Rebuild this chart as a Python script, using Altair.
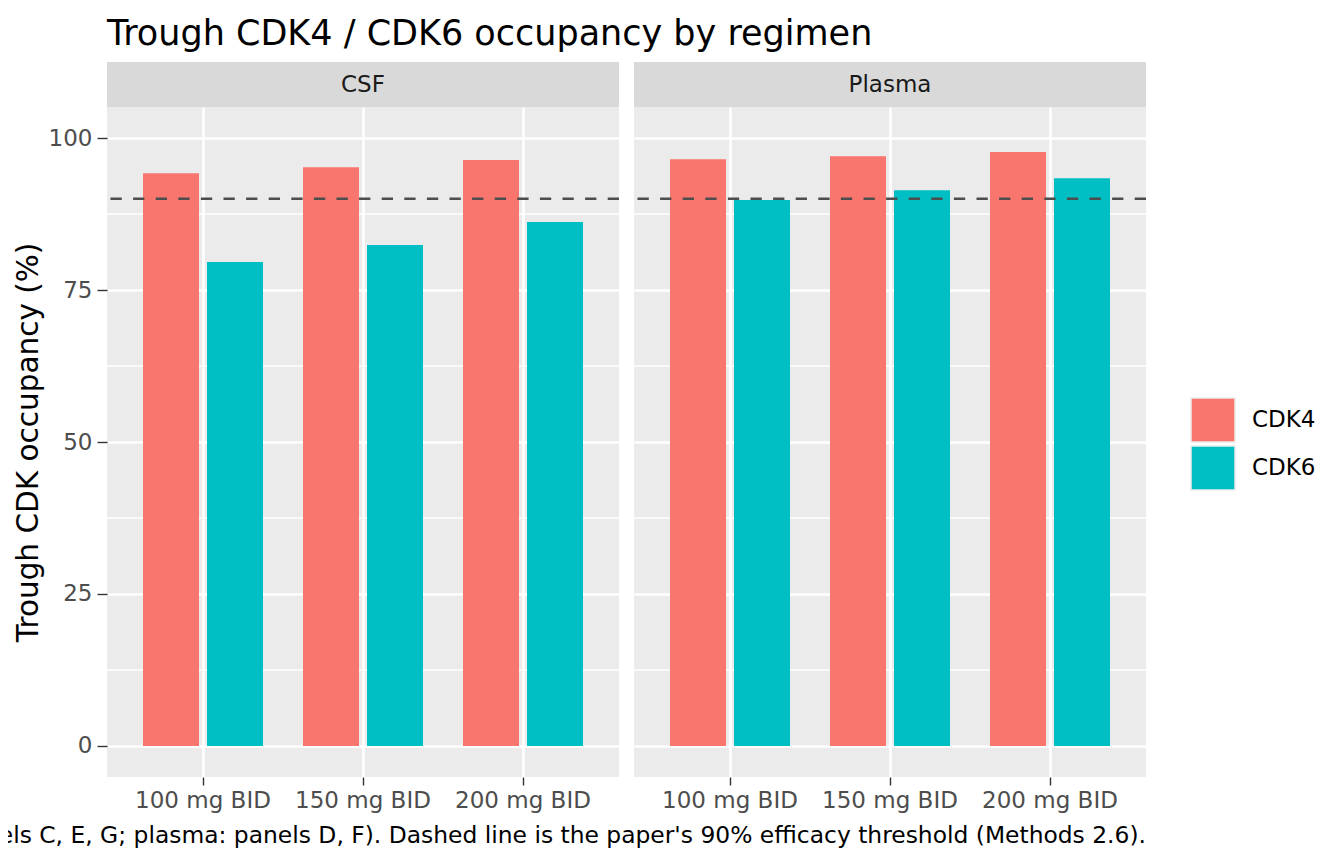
import altair as alt
import pandas as pd

panels = ["CSF", "Plasma"]
doses = ["100 mg BID", "150 mg BID", "200 mg BID"]
proteins = ["CDK4", "CDK6"]
csf_cdk4 = [94.2, 95.2, 96.4]
csf_cdk6 = [79.6, 82.4, 86.2]
plasma_cdk4 = [96.5, 97.0, 97.7]
plasma_cdk6 = [89.8, 91.4, 93.4]
threshold = [90]
y_ticks = [0, 25, 50, 75, 100]
y_minor = [12.5, 37.5, 62.5, 87.5]
colors = ["#F8766D", "#00BFC4"]
title_text = "Trough CDK4 / CDK6 occupancy by regimen"
y_title = "Trough CDK occupancy (%)"
caption = ("els C, E, G; plasma: panels D, F). Dashed line is the paper's "
           "90% efficacy threshold (Methods 2.6).")

series = {
    ("CSF", "CDK4"): csf_cdk4,
    ("CSF", "CDK6"): csf_cdk6,
    ("Plasma", "CDK4"): plasma_cdk4,
    ("Plasma", "CDK6"): plasma_cdk6,
}
rows = []
for (p, pr), vals in series.items():
    for d, v in zip(doses, vals):
        rows.append({"panel": p, "dose": d, "protein": pr, "value": v})
df = pd.DataFrame(rows)

W, H = 512, 670
FONT = "DejaVu Sans"
LABEL = 23


def make_panel(name, first, last):
    yscale = alt.Scale(domain=[-5.1, 105.1], nice=False, zero=False)
    if first:
        yaxis = alt.Axis(values=y_ticks, title=y_title, titleFontSize=29.5,
                         titleColor="black", titleFontWeight="normal",
                         titlePadding=5, labelFontSize=LABEL, labelColor="#4D4D4D",
                         labelPadding=5, tickSize=10, tickColor="#333333",
                         tickWidth=1.4, domain=False, grid=True,
                         gridColor="white", gridWidth=2.6)
    else:
        yaxis = alt.Axis(values=y_ticks, title=None, labels=False, ticks=False,
                         domain=False, grid=True, gridColor="white", gridWidth=2.6)
    xaxis = alt.Axis(title=None, labelAngle=0, labelFontSize=LABEL,
                     labelColor="#4D4D4D", labelPadding=4, tickSize=8,
                     tickColor="#333333", tickWidth=1.4, domain=False,
                     grid=True, gridColor="white", gridWidth=2.6,
                     bandPosition=0.5)

    minor = alt.Chart(pd.DataFrame({"m": y_minor})).mark_rule(
        color="white", strokeWidth=1.3
    ).encode(y=alt.Y("m:Q", scale=yscale, axis=yaxis))

    legend = None
    if first:
        legend = alt.Legend(title=None, orient="none", legendX=1083, legendY=290,
                            symbolType="square", symbolSize=1936,
                            symbolStrokeColor="#EBEBEB", symbolStrokeWidth=1.5,
                            labelFontSize=LABEL, labelColor="black",
                            labelOffset=16, rowPadding=-11, padding=0)

    bars = alt.Chart(df).transform_filter(alt.datum.panel == name).mark_bar().encode(
        x=alt.X("dose:N", sort=doses,
                scale=alt.Scale(paddingInner=0, paddingOuter=0.1), axis=xaxis),
        xOffset=alt.XOffset("protein:N", sort=proteins,
                            scale=alt.Scale(paddingInner=0.125, paddingOuter=0.3125)),
        y=alt.Y("value:Q", scale=yscale),
        y2=alt.datum(0),
        color=alt.Color("protein:N", sort=proteins,
                        scale=alt.Scale(domain=proteins, range=colors),
                        legend=legend),
    )

    thr = alt.Chart(pd.DataFrame({"t": threshold})).mark_rule(
        color="#4D4D4D", strokeWidth=2.6, strokeDash=[11.3, 11.3]
    ).encode(y=alt.Y("t:Q", scale=yscale))

    strip_df = pd.DataFrame({"label": [name]})
    strip = alt.Chart(strip_df).mark_rect(fill="#D9D9D9").encode(
        x=alt.value(0), x2=alt.value(W), y=alt.value(-45), y2=alt.value(0)
    )
    strip_text = alt.Chart(strip_df).mark_text(
        fontSize=LABEL, color="#1A1A1A", baseline="middle", align="center", font=FONT
    ).encode(x=alt.value(W / 2), y=alt.value(-22), text="label:N")

    layers = [minor, bars, thr, strip, strip_text]
    if last:
        cap = alt.Chart(pd.DataFrame({"c": [caption]})).mark_text(
            fontSize=23.4, color="black", align="right", baseline="alphabetic",
            font=FONT
        ).encode(x=alt.value(W), y=alt.value(H + 66), text="c:N")
        layers.append(cap)

    return alt.layer(*layers).properties(width=W, height=H)


p1 = make_panel("CSF", True, False)
p2 = make_panel("Plasma", False, True)

chart = alt.hconcat(p1, p2, spacing=15, bounds="flush").resolve_scale(
    color="shared"
).properties(
    title=alt.TitleParams(title_text, anchor="start", frame="group", fontSize=35,
                          font=FONT, fontWeight="normal", color="black", offset=10),
    padding={"left": -10, "top": 9, "right": 5, "bottom": 5},
).configure(font=FONT).configure_view(fill="#EBEBEB", stroke=None)

chart.save("out.html", embed_options={"renderer": "svg", "actions": False})
